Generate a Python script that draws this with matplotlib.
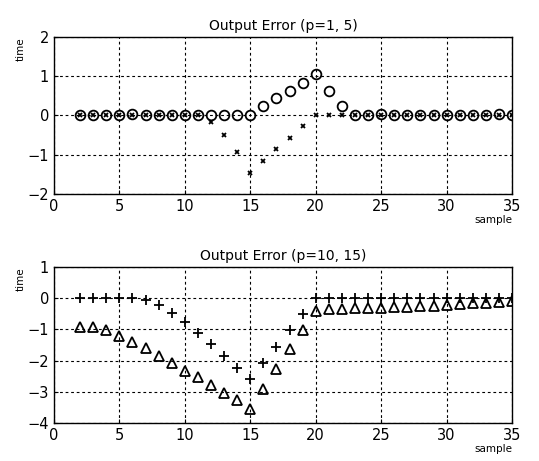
import numpy as np
import matplotlib
matplotlib.use('Agg')
import matplotlib.pyplot as plt

sample = list(range(2, 36))

# p=1 (circles) and p=5 (x marks)
err_p1 = [0, 0, 0, 0, 0.04, 0, 0, 0, 0, 0, 0, 0, 0, 0,
          0.25, 0.45, 0.63, 0.82, 1.05, 0.63, 0.25,
          0, 0, 0.03, 0.02, 0, 0, 0, 0.02, 0, 0.02, 0, 0.03, 0]
err_p5 = [0, 0, 0, 0, 0, 0, 0, 0, 0, 0, -0.17, -0.5, -0.92, -1.46,
          -1.17, -0.86, -0.58, -0.27, 0, 0, 0,
          0, 0, 0, 0, 0, 0, 0, 0, 0, 0, 0, 0, 0]

# p=10 (plus) and p=15 (triangles)
err_p10 = [0, 0, 0, 0, 0, -0.05, -0.22, -0.48, -0.77, -1.13, -1.47, -1.86,
           -2.22, -2.6, -2.06, -1.55, -1.02, -0.5, 0,
           0, 0, 0, 0, 0, 0, 0, 0, 0, 0, 0, 0, 0, 0, 0]
err_p15 = [-0.92, -0.93, -1.03, -1.22, -1.41, -1.59, -1.85, -2.08, -2.32,
           -2.53, -2.77, -3.04, -3.27, -3.56, -2.89, -2.25, -1.62, -1.03,
           -0.41, -0.36, -0.36, -0.33, -0.31, -0.31, -0.28, -0.27, -0.25,
           -0.24, -0.22, -0.2, -0.17, -0.15, -0.12, -0.1]

fig = plt.figure(figsize=(5.39, 4.61), dpi=100)
ax1 = fig.add_axes([0.100, 0.579, 0.850, 0.341])
ax2 = fig.add_axes([0.100, 0.082, 0.850, 0.339])

ax1.plot(sample, err_p1, 'o', mfc='none', mec='black', ms=7, mew=1.3)
ax1.plot(sample, err_p5, 'x', color='black', ms=3.5, mew=1.3)
ax1.set_ylim(-2, 2)
ax1.set_yticks([-2, -1, 0, 1, 2])
ax1.set_title('Output Error (p=1, 5)', fontsize=10, pad=5)

ax2.plot(sample, err_p10, '+', color='black', ms=7, mew=1.3)
ax2.plot(sample, err_p15, '^', mfc='none', mec='black', ms=7, mew=1.3)
ax2.set_ylim(-4, 1)
ax2.set_yticks([-4, -3, -2, -1, 0, 1])
ax2.set_title('Output Error (p=10, 15)', fontsize=10, pad=5)

for ax in (ax1, ax2):
    ax.set_xlim(0, 35)
    ax.set_xticks([0, 5, 10, 15, 20, 25, 30, 35])
    ax.grid(True, linestyle=(0, (2.5, 2.5)), color='black', linewidth=0.8)
    ax.tick_params(labelsize=10.5, direction='in', length=3)
    ax.set_xlabel('sample', fontsize=7.5, loc='right', labelpad=1)
    ax.set_ylabel('time', fontsize=7.5, loc='top', labelpad=1)
    for s in ax.spines.values():
        s.set_linewidth(1)

fig.savefig('out.png', dpi=100)
